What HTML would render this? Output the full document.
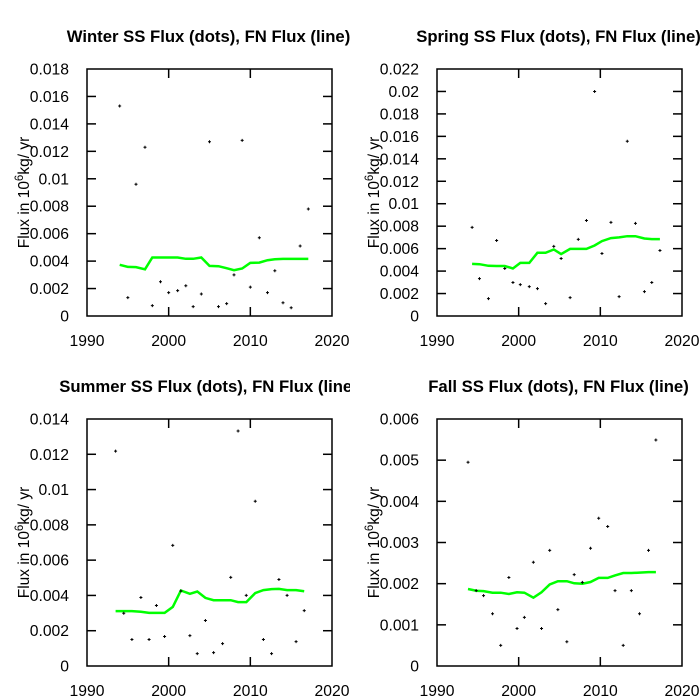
<!DOCTYPE html>
<html><head><meta charset="utf-8"><style>
body{margin:0;background:#fff;}
svg{display:block;font-family:"Liberation Sans",Arial,sans-serif;}
</style></head><body>
<svg id="chart" width="700" height="700" viewBox="0 0 700 700"></svg>
<script>
const winterYears=[1994,1995,1996,1997.1,1998,1999,2000,2001.1,2002.1,2003,2004,2005,2006.1,2007.1,2008,2009,2010,2011.1,2012.1,2013,2014,2015,2016.1,2017.1];
const winterDots=[.0153,.00134,.0096,.0123,.00076,.0025,.0017,.00185,.0022,.00068,.0016,.0127,.00068,.0009,.0030,.0128,.0021,.0057,.0017,.0033,.00097,.0006,.0051,.0078];
const winterLine=[.00373,.00358,.00356,.0034,.00426,.00426,.00426,.00426,.00417,.00417,.00426,.00365,.00363,.00348,.00334,.00346,.00387,.00389,.00407,.00414,.00416,.00416,.00416,.00416];
const springYears=[1994.3,1995.2,1996.3,1997.3,1998.3,1999.3,2000.2,2001.3,2002.3,2003.3,2004.3,2005.2,2006.3,2007.3,2008.3,2009.3,2010.2,2011.3,2012.3,2013.3,2014.3,2015.4,2016.3,2017.3];
const springDots=[.00789,.00333,.00155,.00673,.00423,.00298,.0028,.00262,.00244,.0011,.0062,.00512,.00164,.00682,.00851,.0200,.00557,.00834,.00173,.01557,.00825,.00217,.00298,.00583];
const springLine=[.00464,.00461,.00447,.00445,.00445,.00423,.00473,.00473,.00563,.00563,.00592,.00551,.00598,.00598,.00598,.00628,.00667,.00694,.007,.00711,.00711,.0069,.00685,.00685];
const summerYears=[1993.5,1994.5,1995.5,1996.6,1997.6,1998.5,1999.5,2000.5,2001.5,2002.6,2003.5,2004.5,2005.5,2006.6,2007.6,2008.5,2009.5,2010.6,2011.6,2012.6,2013.5,2014.5,2015.6,2016.6];
const summerDots=[.01218,.00299,.0015,.00388,.0015,.00343,.00167,.00684,.00425,.00172,.0007,.00258,.00076,.00127,.00502,.01332,.004,.00934,.0015,.0007,.0049,.004,.00138,.00314];
const summerLine=[.00311,.00311,.00311,.00307,.00301,.00301,.00301,.00335,.00428,.00409,.00422,.00386,.00373,.00373,.00373,.00362,.00362,.00413,.0043,.00436,.00437,.0043,.0043,.00424];
const fallYears=[1993.8,1994.8,1995.7,1996.8,1997.8,1998.8,1999.8,2000.7,2001.8,2002.8,2003.8,2004.8,2005.9,2006.8,2007.8,2008.8,2009.8,2010.9,2011.8,2012.8,2013.8,2014.8,2015.9,2016.8];
const fallDots=[.00495,.00183,.00171,.00127,.0005,.00215,.00091,.00118,.00252,.00091,.00281,.00137,.00059,.00222,.00203,.00286,.00359,.00339,.00183,.0005,.00183,.00127,.00281,.00549];
const fallLine=[.00187,.00183,.00182,.00178,.00178,.00175,.00179,.00178,.00166,.00179,.00198,.00206,.00206,.00201,.002,.00204,.00214,.00214,.0022,.00226,.00226,.00227,.00228,.00228];
const xTicks=[1990,2000,2010,2020];
const winterTicks=["0","0.002","0.004","0.006","0.008","0.01","0.012","0.014","0.016","0.018"];
const springTicks=["0","0.002","0.004","0.006","0.008","0.01","0.012","0.014","0.016","0.018","0.02","0.022"];
const summerTicks=["0","0.002","0.004","0.006","0.008","0.01","0.012","0.014"];
const fallTicks=["0","0.001","0.002","0.003","0.004","0.005","0.006"];

const NS="http://www.w3.org/2000/svg";
const svg=document.getElementById('chart');
function mk(tag,attrs,parent){const e=document.createElementNS(NS,tag);for(const k in attrs)e.setAttribute(k,attrs[k]);parent.appendChild(e);return e;}

const panels=[
 {name:'winter',title:'Winter SS Flux (dots), FN Flux (line)',ox:0,oy:0,years:winterYears,dots:winterDots,line:winterLine,ticks:winterTicks},
 {name:'spring',title:'Spring SS Flux (dots), FN Flux (line)',ox:350,oy:0,years:springYears,dots:springDots,line:springLine,ticks:springTicks},
 {name:'summer',title:'Summer SS Flux (dots), FN Flux (line)',ox:0,oy:350,years:summerYears,dots:summerDots,line:summerLine,ticks:summerTicks},
 {name:'fall',title:'Fall SS Flux (dots), FN Flux (line)',ox:350,oy:350,years:fallYears,dots:fallDots,line:fallLine,ticks:fallTicks}
];
panels.forEach((p,pi)=>{
 const g=mk('g',{transform:`translate(${p.ox},${p.oy})`},svg);
 
 
 const cid='clip'+pi;
 const cp=mk('clipPath',{id:cid},g);mk('rect',{x:0,y:0,width:350,height:350},cp);
 g.setAttribute('clip-path',`url(#${cid})`);
 const L=87,R=332,T=69,B=316;
 const ymax=parseFloat(p.ticks[p.ticks.length-1]);
 const sx=v=>L+(v-1990)/30*(R-L);
 const sy=v=>B-v/ymax*(B-T);
 const t=mk('text',{x:(L+R)/2-1,y:42,'text-anchor':'middle','font-size':'16.7','font-weight':'bold'},g);
 t.textContent=p.title;
 
 
 p.ticks.forEach(tk=>{
  const v=parseFloat(tk),y=sy(v);
  const tl=mk('text',{x:69,y:y+5.5,'text-anchor':'end','font-size':'15.7'},g);
  tl.textContent=tk;
  
  
  if(v>0&&v<ymax){mk('line',{x1:L,x2:L+9,y1:y,y2:y,stroke:'#000','stroke-width':1.5},g);mk('line',{x1:R,x2:R-9,y1:y,y2:y,stroke:'#000','stroke-width':1.5},g);}
 });
 xTicks.forEach(v=>{
  const x=sx(v);
  const tl=mk('text',{x:x,y:346,'text-anchor':'middle','font-size':'15.7'},g);
  tl.textContent=v;
  
  
  if(v>1990&&v<2020){mk('line',{x1:x,x2:x,y1:B,y2:B-9,stroke:'#000','stroke-width':1.5},g);mk('line',{x1:x,x2:x,y1:T,y2:T+9,stroke:'#000','stroke-width':1.5},g);}
 });
 const box=mk('rect',{x:L,y:T,width:R-L,height:B-T,fill:'none',stroke:'#000','stroke-width':1.5},g);
 
 
 const yt=mk('text',{transform:`translate(29,${(T+B)/2}) rotate(-90)`,'text-anchor':'middle','font-size':'15.5'},g);
 yt.innerHTML='Flux in 10<tspan dy="-6" font-size="11.5">6</tspan><tspan dy="6">kg/ yr</tspan>';
 
 
 const pts=p.years.map((yr,i)=>sx(yr).toFixed(1)+','+sy(p.line[i]).toFixed(1)).join(' ');
 const pl=mk('polyline',{points:pts,fill:'none',stroke:'#00ff00','stroke-width':2.5},g);
 
 
 p.years.forEach((yr,i)=>{
  const x=sx(yr),y=sy(p.dots[i]);
  const d=mk('path',{d:`M${x-1.5},${y}H${x+1.5}M${x},${y-1.5}V${y+1.5}`,stroke:'#000','stroke-width':1},g);
  
  
 });
});
</script>
</body></html>
